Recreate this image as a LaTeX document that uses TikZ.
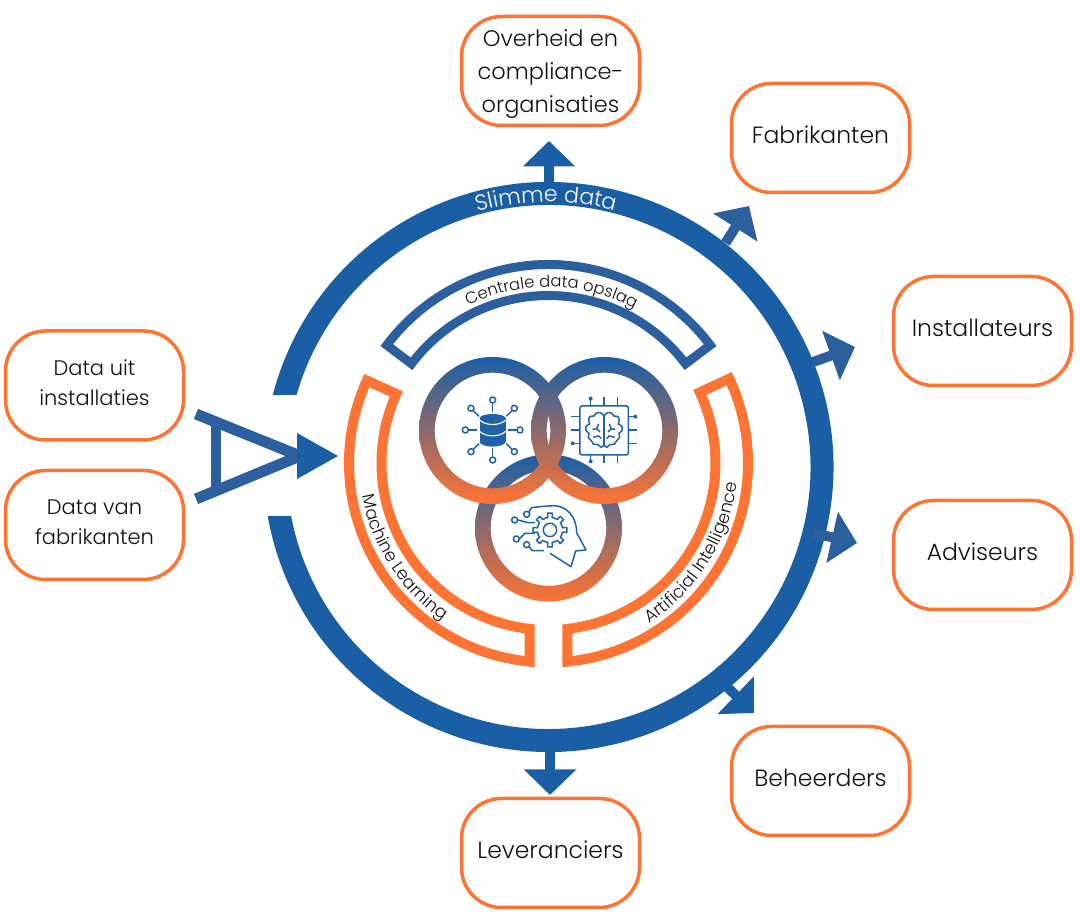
\documentclass[tikz,border=0pt]{standalone}
\usepackage{fontspec}
\setmainfont{Poppins Light}
\usetikzlibrary{arrows.meta,decorations.text}
\definecolor{ringblue}{HTML}{1A5FA5}
\definecolor{softblue}{HTML}{2C5F9E}
\definecolor{iconblue}{HTML}{1F62A8}
\definecolor{accent}{HTML}{FF7433}
\definecolor{ink}{HTML}{111111}
\newcommand{\boxfont}{\fontsize{23.5}{33}\selectfont}
\newcommand{\topfont}{\fontsize{22.5}{33}\selectfont}
\newcommand{\inputfont}{\fontsize{21}{30}\selectfont}
\tikzset{
  partybox/.style={draw=accent,line width=3.5pt,rounded corners=40pt,minimum width=178pt,minimum height=109pt,
    inner sep=0pt,align=center,text=ink,font=\boxfont,text depth=6pt},
  flowarrow/.style={line width=10pt,draw=#1,-{Triangle[length=25.5pt,width=51pt,#1]}},
  ringshade/.style={even odd rule,top color=ringblue,bottom color=accent},
  icon/.style={draw=iconblue,line width=1.5pt},
  band/.style={line width=9pt,miter limit=10}
}
\begin{document}
\begin{tikzpicture}[x=1pt,y=1pt]
    \useasboundingbox (0,0) rectangle (1080,923);
    \node[partybox,font=\topfont,text depth=0pt] (overheid) at (550.5,852) {Overheid en\\compliance-\\organisaties};
    \node[partybox] (fabrikanten) at (820.5,785) {Fabrikanten};
    \node[partybox] (installateurs) at (982.5,592) {Installateurs};
    \node[partybox] (adviseurs) at (982.5,368) {Adviseurs};
    \node[partybox] (beheerders) at (820.5,142) {Beheerders};
    \node[partybox] (leveranciers) at (550.5,70) {Leveranciers};
    \node[partybox,font=\inputfont] (installaties) at (94.5,537.5) {Data uit\\installaties};
    \node[partybox,font=\inputfont] (fabrikantdata) at (94.5,398) {Data van\\fabrikanten};

    \coordinate (overheidS) at (549,735);
    \coordinate (overheidE) at (549,782);
    \coordinate (fabrikantenS) at (725.5,680);
    \coordinate (fabrikantenE) at (749,717);
    \coordinate (installateursS) at (813,561);
    \coordinate (installateursE) at (855,576);
    \coordinate (adviseursS) at (813,390);
    \coordinate (adviseursE) at (857,380);
    \coordinate (beheerdersS) at (725,238);
    \coordinate (beheerdersE) at (754,210);
    \coordinate (leveranciersS) at (550,175);
    \coordinate (leveranciersE) at (550,128);
    \coordinate (wedgeTop) at (196,509);
    \coordinate (wedgeBot) at (196,424);
    \coordinate (wedgeTip) at (300,467);
    \coordinate (barTop) at (216,501);
    \coordinate (barBot) at (216,432);
    \coordinate (inputE) at (338,467);

    \begin{scope}[shift={(548.5,456)}]
      \fill[ringblue] (165.4:285) arc[start angle=165.4,end angle=-170.1,radius=285]
        -- (-169.2:262) arc[start angle=-169.2,end angle=164,radius=262] -- cycle;
      \path[decorate,decoration={text along path,text align=center,text color=white,
        text={|\fontsize{22}{22}\selectfont|Slimme data}}]
        (130.5:265) arc[start angle=130.5,end angle=50.5,radius=265];
      \draw[band,softblue] (143:202.5) arc[start angle=143,end angle=37,radius=202.5]
        -- (37:171.5) arc[start angle=37,end angle=143,radius=171.5] -- cycle;
      \path[decorate,decoration={text along path,text align=center,text color=ink,
        text={|\fontsize{16.3}{17}\selectfont|Centrale data opslag}}]
        (129:180) arc[start angle=129,end angle=49,radius=180];
    \end{scope}

    \begin{scope}[shift={(548.5,460)}]
      \draw[line width=10pt,accent,miter limit=10] (155.6:199.5) arc[start angle=155.6,end angle=264.6,radius=199.5]
        -- (263.5:167) arc[start angle=263.5,end angle=155.6,radius=167] -- cycle;
      \draw[line width=10pt,accent,miter limit=10] (25:199.5) arc[start angle=25,end angle=-84.6,radius=199.5]
        -- (-83.5:167) arc[start angle=-83.5,end angle=25,radius=167] -- cycle;
      \path[decorate,decoration={text along path,text align=center,text color=ink,
        text={|\fontsize{17.3}{18}\selectfont|Machine Learning}}]
        (170:189) arc[start angle=170,end angle=256,radius=189];
      \path[decorate,decoration={text along path,text align=center,text color=ink,
        text={|\fontsize{17.3}{18}\selectfont|Artificial Intelligence}}]
        (-76:189) arc[start angle=-76,end angle=12,radius=189];
    \end{scope}

    \draw[flowarrow=ringblue] (overheidS) -- (overheidE);
    \draw[flowarrow=softblue] (fabrikantenS) -- (fabrikantenE);
    \draw[flowarrow=softblue] (installateursS) -- (installateursE);
    \draw[flowarrow=softblue] (adviseursS) -- (adviseursE);
    \draw[flowarrow=ringblue] (beheerdersS) -- (beheerdersE);
    \draw[flowarrow=ringblue] (leveranciersS) -- (leveranciersE);

    \draw[softblue,line width=11pt,line join=miter] (wedgeTop) -- (wedgeTip) -- (wedgeBot);
    \draw[softblue,line width=10pt] (barTop) -- (barBot);
    \fill[ringblue] (297,490) -- (inputE) -- (297,444) -- cycle;

    \coordinate (storeC) at (492.5,492.5);
    \coordinate (chipC) at (604.5,492.5);
    \coordinate (headC) at (548.5,395);
    \shade[ringshade] (headC) circle (73.5) (headC) circle (57.8);
    \shade[ringshade] (storeC) circle (73.5) (storeC) circle (57.8);
    \shade[ringshade] (chipC) circle (73.5) (chipC) circle (57.8);

    \begin{scope}[shift={(400,583)},x=0.3333pt,y=-0.3333pt]
      \foreach \a/\r/\i in {0/82/47,45/92/58,90/90/55,135/92/58,180/82/47,225/92/58,270/90/55,315/92/58} {
        \draw[icon] ([shift={(\a:\r)}]278,270) circle (9);
        \draw[icon] ([shift={(\a:\i)}]278,270) -- ([shift={(\a:\r-9)}]278,270);
      }
      \fill[iconblue] (278,235) ellipse (39 and 13);
      \fill[iconblue] (239,235) rectangle (317,305);
      \fill[iconblue] (278,305) ellipse (39 and 15);
      \draw[white,line width=1.1pt] (239,240) .. controls (255,258) and (301,258) .. (317,240);
      \draw[white,line width=1.1pt] (239,274) .. controls (255,292) and (301,292) .. (317,274);

      \draw[icon,rounded corners=2pt] (540,198) rectangle (685,345);
      \foreach \p in {572,612,652} {
        \draw[icon] (\p,172) -- (\p,198);
        \draw[icon] (\p,345) -- (\p,368);
      }
      \foreach \p in {230,270,310} {
        \draw[icon] (513,\p) -- (540,\p);
        \draw[icon] (685,\p) -- (710,\p);
      }
      \fill[iconblue] (572,176) circle (6);
      \fill[iconblue] (706,230) circle (6);
      \fill[iconblue] (518,310) circle (6);
      \fill[iconblue] (572,364) circle (6);
      \foreach \s in {-1,1} {
        \begin{scope}[shift={(612,270)},xscale=\s]
          \draw[icon] plot[smooth,tension=0.7] coordinates {(0,-42) (-10,-52) (-24,-50) (-30,-42) (-42,-40)
            (-46,-28) (-43,-18) (-53,-12) (-54,2) (-45,10) (-47,22) (-38,32) (-32,42) (-18,44) (-8,52) (0,44)};
          \draw[icon] (0,-42) -- (0,44);
          \draw[icon] (-34,-2) -- (-22,-4) -- (-16,-18);
          \draw[icon] (-22,-4) -- (-12,6);
          \draw[icon] (-32,22) -- (-16,18) -- (-8,26);
        \end{scope}
      }

      \draw[icon,line join=round] (450,640) -- (513,680) -- (527,633) -- (558,630) -- (530,578)
        .. controls (530,530) and (500,497) .. (460,497) -- (420,500) -- (395,503) -- (385,518);
      \draw[icon] (380,523) circle (9);
      \draw[icon] (344,540) circle (9);
      \draw[icon] (349,597) circle (9);
      \draw[icon] (380,614) circle (9);
      \draw[icon] (353,540) -- (385,548) -- (405,548);
      \draw[icon] (358,597) -- (375,580) -- (405,580);
      \draw[icon] (387,620) -- (397,632) -- (432,632);
      \draw[icon] (450,570) circle (20);
      \foreach \a in {0,45,...,315} {
        \draw[icon,line join=round] ([shift={(\a-22.5:38)}]450,570) -- ([shift={(\a-10:38)}]450,570)
          -- ([shift={(\a-8:51)}]450,570) -- ([shift={(\a+8:51)}]450,570)
          -- ([shift={(\a+10:38)}]450,570) -- ([shift={(\a+22.5:38)}]450,570);
      }
    \end{scope}
  \end{tikzpicture}
\end{document}
